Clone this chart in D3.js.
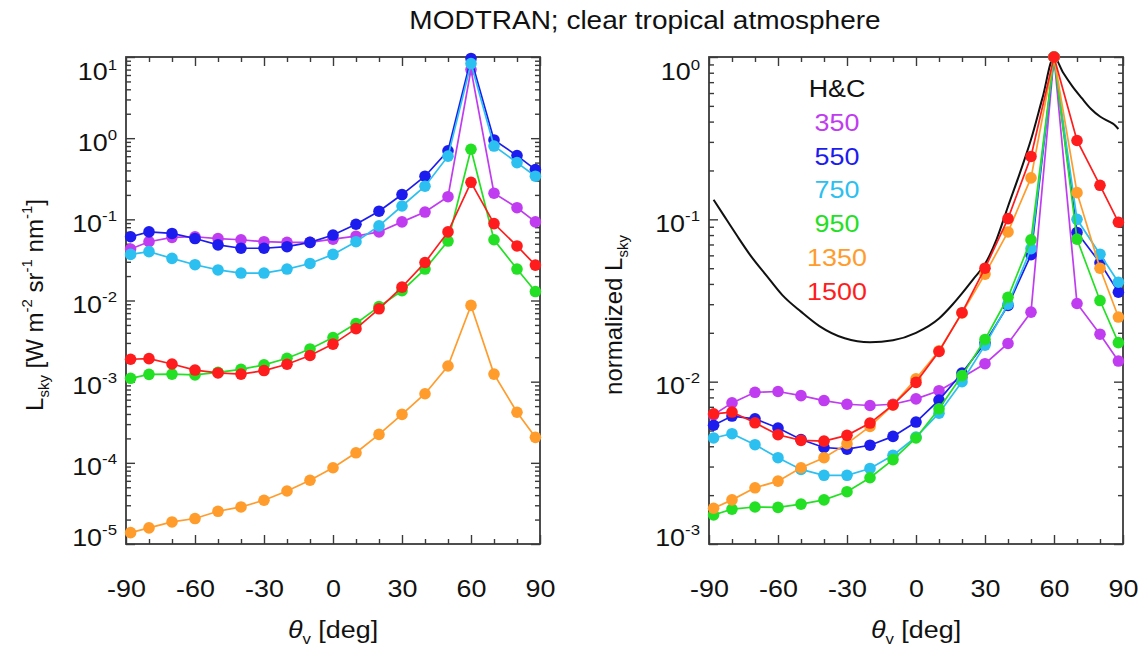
<!DOCTYPE html>
<html>
<head>
<meta charset="utf-8">
<script src="https://cdn.jsdelivr.net/npm/d3@7"></script>
<style>
  body { margin: 0; background: #fff; }
  text { font-family: "Liberation Sans", Arial, Helvetica, sans-serif; fill: #111; }
</style>
</head>
<body>
<div id="chart"></div>
<script>
// viewing angles (deg)
var angles = [-88, -80, -70, -60, -50, -40, -30, -20, -10, 0, 10, 20, 30, 40, 50, 60, 70, 80, 88]

// wavelengths (nm) and colours
var bands = ["350", "550", "750", "950", "1350", "1500"]
var bandColors = ["#c03cf0", "#1c1cee", "#2cc0f0", "#24e024", "#ff9c2c", "#ff1c1c"]

// left panel: L_sky [W m-2 sr-1 nm-1]
var sky350 = [0.043, 0.053, 0.060, 0.061, 0.058, 0.056, 0.053, 0.052, 0.052, 0.057, 0.062, 0.070, 0.093, 0.123, 0.19, 7.0, 0.21, 0.139, 0.093]
var sky550 = [0.061, 0.070, 0.067, 0.058, 0.0485, 0.044, 0.044, 0.046, 0.052, 0.064, 0.087, 0.126, 0.202, 0.34, 0.70, 9.6, 0.95, 0.61, 0.41]
var sky750 = [0.037, 0.040, 0.033, 0.0276, 0.0238, 0.0218, 0.0218, 0.0244, 0.0286, 0.037, 0.053, 0.083, 0.146, 0.256, 0.60, 8.3, 0.80, 0.50, 0.34]
var sky950 = [0.00110, 0.00123, 0.00124, 0.00121, 0.00130, 0.00142, 0.00161, 0.00194, 0.00253, 0.0035, 0.0052, 0.0084, 0.0132, 0.0244, 0.054, 0.73, 0.056, 0.0244, 0.0129]
var sky1350 = [1.38e-5, 1.58e-5, 1.87e-5, 2.06e-5, 2.53e-5, 2.86e-5, 3.46e-5, 4.5e-5, 6.1e-5, 8.7e-5, 1.33e-4, 2.24e-4, 3.95e-4, 7.1e-4, 1.56e-3, 8.7e-3, 1.24e-3, 4.2e-4, 2.06e-4]
var sky1500 = [0.00189, 0.00192, 0.00165, 0.00139, 0.00128, 0.00124, 0.00137, 0.00164, 0.0021, 0.0029, 0.0045, 0.0079, 0.0146, 0.0294, 0.070, 0.286, 0.0886, 0.047, 0.0273]

// right panel: normalized L_sky
var norm350 = [0.00625, 0.0074, 0.0086, 0.0087, 0.0082, 0.00765, 0.00726, 0.00713, 0.00726, 0.00783, 0.0088, 0.0106, 0.0129, 0.0172, 0.0268, 1, 0.0303, 0.0196, 0.0134]
var norm550 = [0.00539, 0.00614, 0.0059, 0.00518, 0.0044, 0.00393, 0.00384, 0.00406, 0.0046, 0.00564, 0.0077, 0.0113, 0.0173, 0.0295, 0.0605, 1, 0.083, 0.054, 0.0356]
var norm750 = [0.0045, 0.00478, 0.00409, 0.0034, 0.00288, 0.00265, 0.00265, 0.00292, 0.00352, 0.00456, 0.0064, 0.0100, 0.0168, 0.030, 0.066, 1, 0.100, 0.061, 0.041]
var norm950 = [0.00151, 0.00164, 0.00169, 0.00168, 0.00176, 0.00187, 0.0021, 0.00256, 0.00331, 0.0045, 0.0068, 0.0109, 0.0182, 0.0331, 0.0747, 1, 0.0755, 0.0316, 0.0174]
var norm1350 = [0.00166, 0.00187, 0.00222, 0.00244, 0.00295, 0.0034, 0.00415, 0.0053, 0.0072, 0.0104, 0.0155, 0.0265, 0.046, 0.0836, 0.18, 1, 0.146, 0.050, 0.025]
var norm1500 = [0.00634, 0.0065, 0.00558, 0.00471, 0.00435, 0.0043, 0.00467, 0.00556, 0.0072, 0.0099, 0.01534, 0.0266, 0.050, 0.101, 0.244, 1, 0.306, 0.162, 0.096]

// H&C curve (black line, right panel)
var hcAngles = [-88, -84, -78, -72, -65, -58, -50, -42, -31, -20, -10, 0, 10, 16, 20, 25, 30, 35, 40, 45, 50, 55, 60, 64, 68, 72, 76, 80, 84, 86, 88]
var hcValues = [0.132, 0.108, 0.080, 0.060, 0.045, 0.034, 0.027, 0.022, 0.0185, 0.0175, 0.018, 0.020, 0.0245, 0.030, 0.035, 0.043, 0.053, 0.075, 0.12, 0.19, 0.31, 0.56, 1.0, 0.80, 0.66, 0.56, 0.48, 0.43, 0.40, 0.385, 0.36]

// axis ticks
var xMajor = [-90, -60, -30, 0, 30, 60, 90]
var xMinor = [-80, -70, -50, -40, -20, -10, 10, 20, 40, 50, 70, 80]
var leftDecades = [1e-5, 1e-4, 1e-3, 1e-2, 1e-1, 1e0, 1e1]
var rightDecades = [1e-3, 1e-2, 1e-1, 1e0]

var skySeries = [sky350, sky550, sky750, sky950, sky1350, sky1500]
var normSeries = [norm350, norm550, norm750, norm950, norm1350, norm1500]

var svgWidth = 1140
var svgHeight = 648
var stretch = 1.12   // the original figure is a little wider than tall
var axisColor = "#3a3a3a"

var svg = d3.select("#chart")
  .append("svg")
  .attr("width", svgWidth)
  .attr("height", svgHeight)

var panelTop = 57
var panelBottom = 544

function stretchedText(parent, x, y, size) {
  return parent.append("text")
    .attr("transform", `translate(${x},${y}) scale(${stretch},1)`)
    .attr("font-size", size)
}

function makePanel(x0, x1, yDomain) {
  var w = x1 - x0
  var h = panelBottom - panelTop
  var g = svg.append("g").attr("transform", `translate(${x0},${panelTop})`)
  var x = d3.scaleLinear().domain([-90, 90]).range([0, w])
  var y = d3.scaleLog().domain(yDomain).range([h, 0])
  return { g: g, x: x, y: y, w: w, h: h, x0: x0 }
}

function styleAxis(sel) {
  sel.select(".domain").remove()
  sel.selectAll(".tick line").attr("stroke", axisColor).attr("stroke-width", 1.4)
}

function drawAxes(P, decades) {
  var minorY = []
  decades.slice(0, -1).forEach(function(d) {
    for (var k = 2; k <= 9; k++) minorY.push(k * d)
  })

  // bottom axis with labels
  var bottom = P.g.append("g")
    .attr("transform", `translate(0,${P.h})`)
    .call(d3.axisBottom(P.x).tickValues(xMajor).tickSizeInner(-9).tickSizeOuter(0))
  styleAxis(bottom)
  bottom.selectAll(".tick text")
    .attr("y", 53).attr("dy", null)
    .attr("font-size", 24).attr("fill", "#111")
    .attr("transform", `scale(${stretch},1)`)
    .text(function(d) { return d < 0 ? "-" + Math.abs(d) : d })

  P.g.append("g").attr("transform", `translate(0,${P.h})`)
    .call(d3.axisBottom(P.x).tickValues(xMinor).tickSizeInner(-5).tickSizeOuter(0).tickFormat(""))
    .call(styleAxis)

  // top axis
  P.g.append("g")
    .call(d3.axisTop(P.x).tickValues(xMajor).tickSizeInner(-9).tickSizeOuter(0).tickFormat(""))
    .call(styleAxis)
  P.g.append("g")
    .call(d3.axisTop(P.x).tickValues(xMinor).tickSizeInner(-5).tickSizeOuter(0).tickFormat(""))
    .call(styleAxis)

  // left axis with 10^n labels
  var left = P.g.append("g")
    .call(d3.axisLeft(P.y).tickValues(decades).tickSizeInner(-9).tickSizeOuter(0).tickPadding(9).tickFormat(""))
  styleAxis(left)
  var n = decades.length
  left.selectAll(".tick text").each(function(d, i) {
    var t = d3.select(this)
      .attr("dy", null)
      .attr("font-size", 24)
      .attr("fill", "#111")
      .attr("transform", `scale(${stretch},1)`)
      .attr("x", -9 / stretch)
      .attr("y", i === 0 ? 1 : (i === n - 1 ? 23 : 12))
    t.append("tspan").text("10")
    t.append("tspan").attr("dy", -11).attr("font-size", 15).text(Math.round(Math.log10(d)))
  })
  P.g.append("g")
    .call(d3.axisLeft(P.y).tickValues(minorY).tickSizeInner(-5).tickSizeOuter(0).tickFormat(""))
    .call(styleAxis)

  // right axis
  P.g.append("g").attr("transform", `translate(${P.w},0)`)
    .call(d3.axisRight(P.y).tickValues(decades).tickSizeInner(-9).tickSizeOuter(0).tickFormat(""))
    .call(styleAxis)
  P.g.append("g").attr("transform", `translate(${P.w},0)`)
    .call(d3.axisRight(P.y).tickValues(minorY).tickSizeInner(-5).tickSizeOuter(0).tickFormat(""))
    .call(styleAxis)

  // frame
  P.g.append("rect")
    .attr("width", P.w).attr("height", P.h)
    .attr("fill", "none").attr("stroke", axisColor).attr("stroke-width", 1.8)
}

function drawSeries(P, series) {
  var line = d3.line()
    .x(function(d, i) { return P.x(angles[i]) })
    .y(function(d) { return P.y(d) })
  series.forEach(function(values, k) {
    var s = P.g.append("g")
    s.append("path")
      .datum(values)
      .attr("d", line)
      .attr("fill", "none")
      .attr("stroke", bandColors[k])
      .attr("stroke-width", 1.7)
    s.selectAll("circle")
      .data(values)
      .enter()
      .append("circle")
      .attr("cx", function(d, i) { return P.x(angles[i]) })
      .attr("cy", function(d) { return P.y(d) })
      .attr("r", 5.8)
      .attr("fill", bandColors[k])
  })
}

// left panel
var L = makePanel(126, 540, [1e-5, 1e1])
drawAxes(L, leftDecades)
drawSeries(L, skySeries)

// right panel
var R = makePanel(709, 1123, [1e-3, 1e0])
drawAxes(R, rightDecades)
var hcLine = d3.line()
  .x(function(d, i) { return R.x(hcAngles[i]) })
  .y(function(d) { return R.y(d) })
  .curve(d3.curveMonotoneX)
R.g.append("path")
  .datum(hcValues)
  .attr("d", hcLine)
  .attr("fill", "none")
  .attr("stroke", "#111")
  .attr("stroke-width", 2)
drawSeries(R, normSeries)

// legend
var legendX = 837
stretchedText(svg, legendX, 97, 24).attr("text-anchor", "middle").text("H&C")
bands.forEach(function(b, i) {
  stretchedText(svg, legendX, 131 + i * 33.7, 24)
    .attr("text-anchor", "middle")
    .style("fill", bandColors[i])
    .text(b)
})

// title
stretchedText(svg, 645, 29, 25).attr("text-anchor", "middle").text("MODTRAN; clear tropical atmosphere")

// x labels
;[L, R].forEach(function(P) {
  var t = stretchedText(svg, P.x0 + P.w / 2, 638, 24).attr("text-anchor", "middle")
  t.append("tspan").attr("font-style", "italic").text("θ")
  t.append("tspan").attr("font-size", 15).attr("dy", 6).text("v")
  t.append("tspan").attr("dy", -6).text(" [deg]")
})

// y labels
var yl = svg.append("text")
  .attr("transform", "translate(43,305) rotate(-90)")
  .attr("text-anchor", "middle")
  .attr("font-size", 24)
yl.append("tspan").text("L")
yl.append("tspan").attr("font-size", 15).attr("dy", 6).text("sky")
yl.append("tspan").attr("dy", -6).text(" [W m")
yl.append("tspan").attr("font-size", 15).attr("dy", -11).text("-2")
yl.append("tspan").attr("dy", 11).text(" sr")
yl.append("tspan").attr("font-size", 15).attr("dy", -11).text("-1")
yl.append("tspan").attr("dy", 11).text(" nm")
yl.append("tspan").attr("font-size", 15).attr("dy", -11).text("-1")
yl.append("tspan").attr("dy", 11).text("]")

var yr = svg.append("text")
  .attr("transform", "translate(622,315) rotate(-90)")
  .attr("text-anchor", "middle")
  .attr("font-size", 24)
yr.append("tspan").text("normalized L")
yr.append("tspan").attr("font-size", 15).attr("dy", 6).text("sky")
</script>
</body>
</html>
